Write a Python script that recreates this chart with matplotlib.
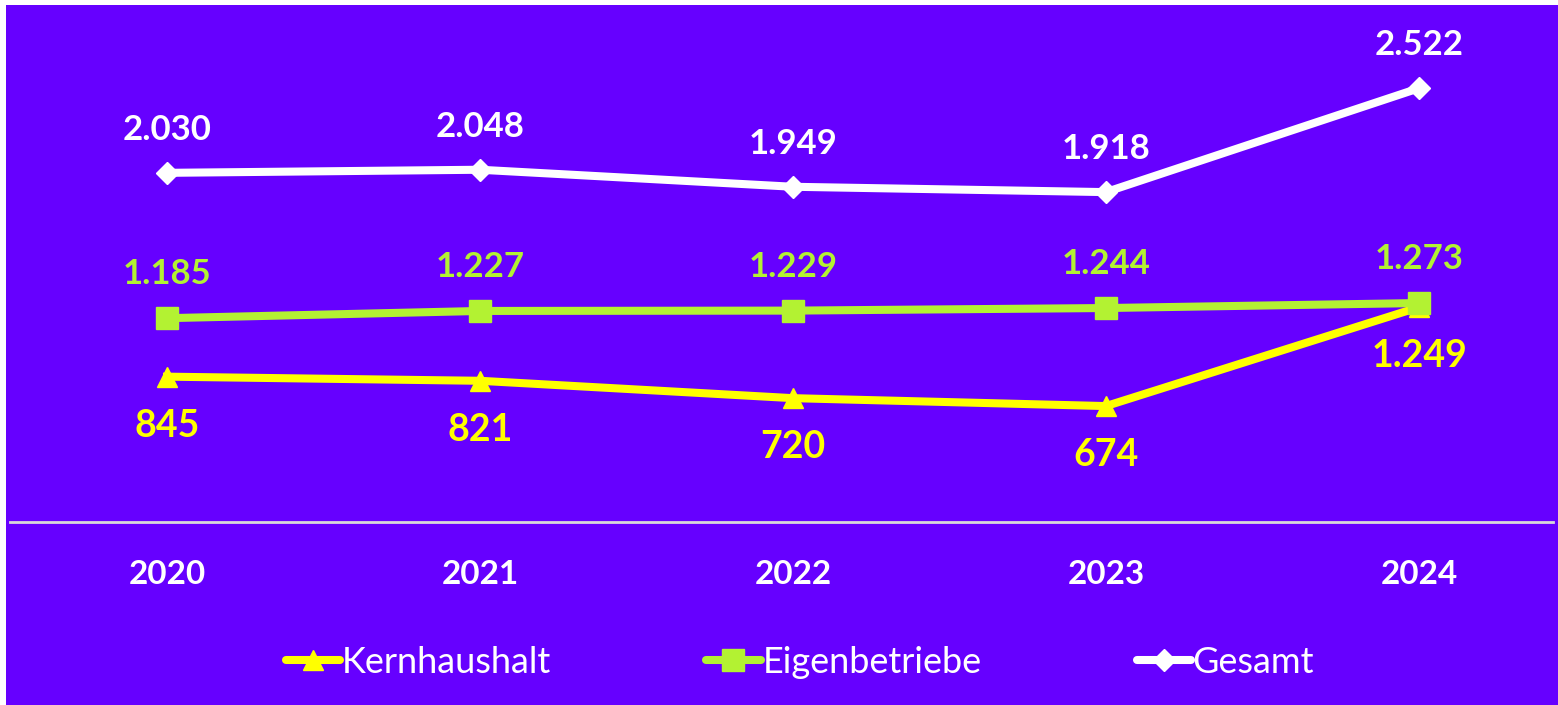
import matplotlib
matplotlib.use("Agg")
import matplotlib.pyplot as plt
from matplotlib.patches import Rectangle

# Daten
jahre = ["2020", "2021", "2022", "2023", "2024"]
kernhaushalt = [845, 821, 720, 674, 1249]
eigenbetriebe = [1185, 1227, 1229, 1244, 1273]
gesamt = [2030, 2048, 1949, 1918, 2522]

lila = "#6600FF"
gelb = "#FFFF00"
gruen = "#B3F232"
weiss = "#FFFFFF"

def fmt(v):
    return f"{v:,}".replace(",", ".")

plt.rcParams["font.family"] = ["Lato", "DejaVu Sans"]

fig = plt.figure(figsize=(15.58, 7.05), dpi=100, facecolor="white")
fig.add_artist(Rectangle((6 / 1558, 0), 1, 1 - 5 / 705, transform=fig.transFigure,
                         facecolor=lila, edgecolor="none", zorder=-10))

ax = fig.add_axes([10 / 1558, (705 - 522) / 705, 1543 / 1558, 516 / 705])
ax.patch.set_alpha(0)

x = range(len(jahre))
lw = 5.8
ax.plot(x, kernhaushalt, color=gelb, lw=lw, marker="^", ms=15, label="Kernhaushalt", zorder=3)
ax.plot(x, eigenbetriebe, color=gruen, lw=lw, marker="s", ms=16, label="Eigenbetriebe", zorder=4)
ax.plot(x, gesamt, color=weiss, lw=lw, marker="D", ms=11, label="Gesamt", zorder=5)

for i in x:
    ax.annotate(fmt(gesamt[i]), (i, gesamt[i]), xytext=(0, 43), textcoords="offset pixels",
                ha="center", va="center", color=weiss, fontsize=25, fontweight="bold")
    ax.annotate(fmt(eigenbetriebe[i]), (i, eigenbetriebe[i]), xytext=(0, 44), textcoords="offset pixels",
                ha="center", va="center", color=gruen, fontsize=25, fontweight="bold")
    ax.annotate(fmt(kernhaushalt[i]), (i, kernhaushalt[i]), xytext=(0, -49), textcoords="offset pixels",
                ha="center", va="center", color=gelb, fontsize=27, fontweight="bold")

ax.set_xlim(-0.5016, (1553 - 167) / 313)
ax.set_ylim(0, 3000)
ax.set_yticks([])
ax.set_xticks(list(x))
ax.set_xticklabels(jahre, color=weiss, fontsize=24, fontweight="bold")
ax.tick_params(axis="x", length=0, pad=27)
for s in ["top", "right", "left"]:
    ax.spines[s].set_visible(False)
ax.spines["bottom"].set_color("#D9D9D9")
ax.spines["bottom"].set_linewidth(2)

leg = ax.legend(loc="center", bbox_to_anchor=(0.512, -0.272), ncol=3, frameon=False,
                fontsize=26, handlelength=1.5, handletextpad=0.05, columnspacing=4.3,
                labelcolor=weiss)
for h in leg.legend_handles:
    h.set_solid_capstyle("round")

fig.savefig("out.png", dpi=100, facecolor="white")
